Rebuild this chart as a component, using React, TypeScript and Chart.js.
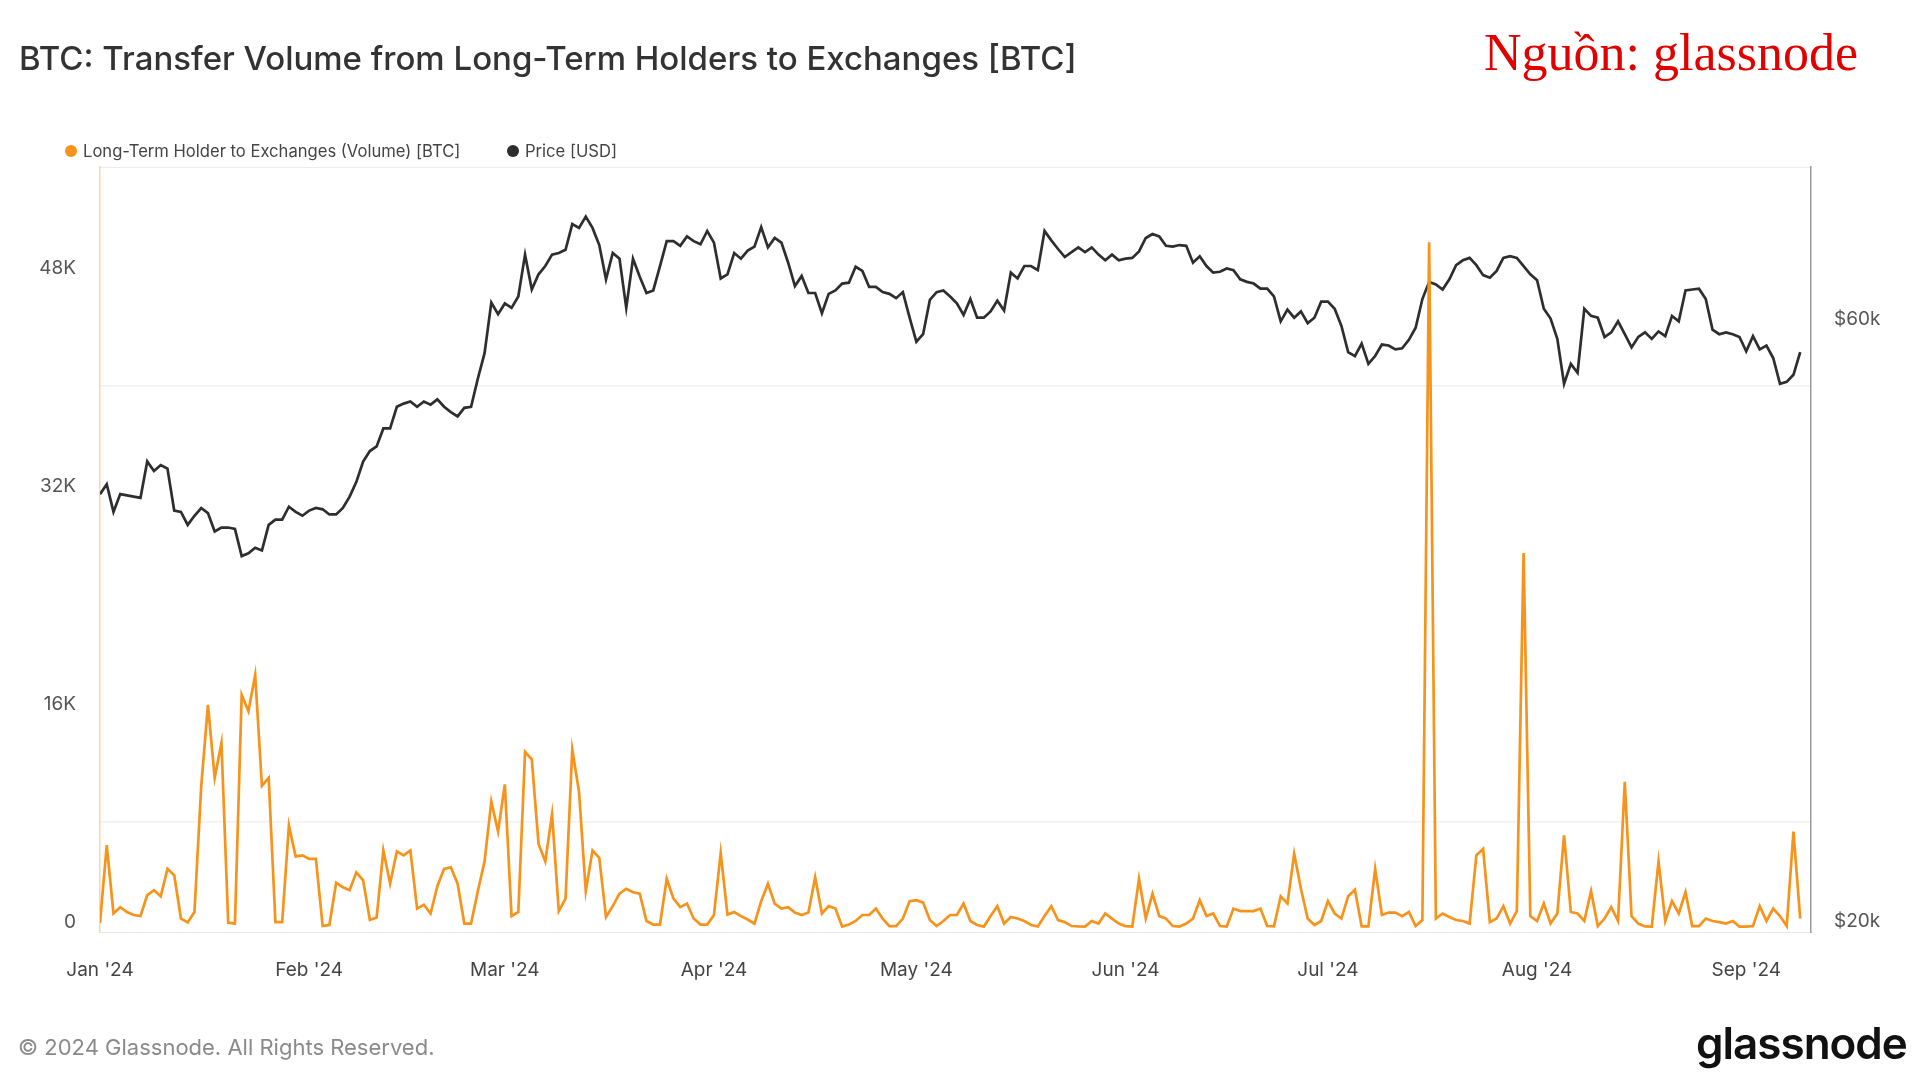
import React, { useEffect, useRef } from "react";
import { Chart, registerables } from "chart.js";

Chart.register(...registerables);

const FONT = 'Inter, "Noto Sans", "DejaVu Sans", sans-serif';

// x axis: day index since Jan 1 2024, month starts
const monthTickDays = [0, 31, 60, 91, 121, 152, 182, 213, 244];
const monthLabels = ["Jan '24", "Feb '24", "Mar '24", "Apr '24", "May '24", "Jun '24", "Jul '24", "Aug '24", "Sep '24"];

// left axis (volume, BTC)
const volumeTicks = [0, 16000, 32000, 48000];
const volumeGridValues = [7700, 39700];

// right axis (price, USD, log)
const priceTicks = [20000, 60000];

// Long-Term Holder to Exchanges (Volume) [BTC], daily from Jan 1 2024 to Sep 9 2024
const volume = [
  300, 6000, 1000, 1450, 1100, 880, 800, 2340, 2700, 2260,
  4270, 3800, 620, 330, 1100, 10300, 16300, 10950, 13500, 330,
  250, 17040, 15840, 18500, 10360, 10950, 360, 360, 7450, 5180,
  5260, 5000, 5000, 70, 150, 3250, 2920, 2700, 4010, 3430,
  510, 690, 5620, 3180, 5550, 5260, 5620, 1350, 1640, 990,
  2990, 4270, 4380, 3180, 250, 250, 2630, 4820, 9200, 7000,
  10470, 800, 1100, 12850, 12300, 6100, 4820, 8280, 1170, 2080,
  13030, 9930, 2630, 5620, 5070, 730, 1530, 2450, 2810, 2550,
  2450, 440, 180, 180, 3540, 2080, 1460, 1720, 620, 180,
  180, 880, 5440, 910, 1100, 800, 550, 250, 1900, 3180,
  1720, 1350, 1460, 1060, 880, 1060, 3650, 990, 1530, 1350,
  30, 180, 440, 880, 880, 1350, 620, 70, 70, 620,
  1900, 1970, 1790, 510, 70, 440, 880, 880, 1720, 440,
  150, 30, 800, 1530, 250, 730, 620, 440, 150, 40,
  800, 1530, 510, 360, 70, 40, 30, 440, 250, 990,
  620, 250, 70, 30, 3540, 620, 2450, 800, 620, 70,
  30, 250, 620, 1970, 800, 990, 70, 30, 1350, 1170,
  1170, 1170, 1350, 70, 40, 2260, 1720, 5370, 2810, 620,
  150, 440, 1900, 990, 620, 2260, 2740, 40, 40, 4270,
  880, 1060, 1060, 800, 1100, 70, 510, 50250, 620, 990,
  730, 510, 440, 250, 5260, 5730, 360, 620, 1530, 250,
  1170, 27450, 800, 440, 1720, 250, 990, 6720, 1100, 990,
  440, 2630, 70, 620, 1460, 440, 10660, 800, 250, 40,
  30, 4820, 440, 1900, 990, 2550, 70, 70, 620, 440,
  360, 250, 440, 30, 30, 70, 1530, 440, 1350, 800,
  70, 7010, 620,
];

// Price [USD], daily
const price = [
  44000, 44800, 42600, 44000, 43900, 43800, 43700, 46700, 45900, 46400,
  46100, 42700, 42600, 41600, 42300, 42900, 42500, 41100, 41400, 41400,
  41300, 39300, 39500, 39900, 39700, 41600, 42000, 42000, 43000, 42600,
  42300, 42700, 42900, 42800, 42400, 42400, 42900, 43800, 45000, 46700,
  47600, 48000, 49600, 49600, 51600, 51900, 52100, 51600, 52100, 51800,
  52300, 51600, 51100, 50700, 51500, 51600, 54300, 56900, 62400, 61100,
  62300, 61800, 63100, 68100, 63900, 65700, 66700, 68100, 68300, 68700,
  72000, 71500, 73000, 71500, 69300, 65100, 68300, 67600, 61800, 67600,
  65400, 63500, 63800, 66700, 69800, 69800, 69200, 70400, 69800, 69400,
  71100, 69600, 65200, 65700, 68300, 67600, 68600, 69100, 71600, 69000,
  70200, 69600, 67100, 64300, 65500, 63500, 63500, 61200, 63400, 63800,
  64600, 64700, 66600, 66100, 64200, 64200, 63600, 63400, 62900, 63600,
  60700, 58100, 58900, 62700, 63600, 63800, 63100, 62300, 61000, 62800,
  60700, 60700, 61400, 62600, 61500, 65900, 65200, 66700, 66700, 66200,
  71100, 69900, 68800, 67800, 68400, 69000, 68400, 69000, 68100, 67400,
  68100, 67400, 67600, 67700, 68500, 70200, 70700, 70400, 69200, 69100,
  69300, 69200, 67100, 67900, 66700, 65900, 66000, 66400, 66200, 65100,
  64800, 64600, 64000, 64000, 63100, 60300, 61600, 60700, 61400, 60100,
  60700, 62500, 62500, 61700, 59800, 57000, 56600, 57900, 55800, 56600,
  57800, 57700, 57300, 57400, 58300, 59600, 62800, 64800, 64500, 63900,
  65100, 66800, 67400, 67700, 66800, 65600, 65300, 66100, 67700, 67900,
  67700, 66700, 65700, 65000, 61700, 60600, 58400, 53800, 55800, 54900,
  61700, 60900, 60700, 58600, 59100, 60300, 58900, 57500, 58600, 59100,
  58400, 59200, 58700, 60900, 60300, 63800, 63900, 64000, 62800, 59400,
  58900, 59100, 58900, 58600, 57100, 58700, 57300, 57700, 56400, 53800,
  54000, 54700, 57000,
];

const ORANGE = "#f7931a";
const DARK = "#2e2e2e";

function ChartCanvas() {
  const ref = useRef<HTMLCanvasElement | null>(null);
  useEffect(() => {
    if (!ref.current) return;
    const chart = new Chart(ref.current, {
      type: "line",
      data: {
        datasets: [
          {
            label: "Long-Term Holder to Exchanges (Volume) [BTC]",
            data: volume.map((v, i) => ({ x: i, y: v })),
            xAxisID: "x",
            yAxisID: "y",
            borderColor: ORANGE,
            borderWidth: 2.7,
            pointRadius: 0,
            tension: 0,
            fill: false,
          },
          {
            label: "Price [USD]",
            data: price.map((v, i) => ({ x: i, y: v })),
            xAxisID: "x",
            yAxisID: "y1",
            borderColor: DARK,
            borderWidth: 2.7,
            pointRadius: 0,
            tension: 0,
            fill: false,
          },
        ],
      },
      options: {
        responsive: false,
        animation: false,
        devicePixelRatio: 1,
        layout: { padding: 0 },
        plugins: { legend: { display: false }, tooltip: { enabled: false } },
        scales: {
          x: {
            type: "linear",
            position: "bottom",
            min: 0,
            max: 253.6,
            afterBuildTicks: (s: any) => {
              s.ticks = monthTickDays.map((v) => ({ value: v }));
            },
            afterFit: (s: any) => {
              s.height = 148;
            },
            grid: { display: false, drawTicks: false },
            border: { display: true, color: "#e6e6e6", width: 1 },
            ticks: {
              autoSkip: false,
              maxRotation: 0,
              minRotation: 0,
              padding: 27,
              color: "#444444",
              font: { family: FONT, size: 19 },
              callback: (_v: any, i: number) => monthLabels[i],
            },
          },
          xTop: {
            type: "linear",
            position: "top",
            min: 0,
            max: 1,
            afterFit: (s: any) => {
              s.height = 167;
            },
            grid: { display: false, drawTicks: false },
            border: { display: true, color: "#ececec", width: 1 },
            ticks: { display: false },
          },
          y: {
            type: "linear",
            position: "left",
            min: -367,
            max: 55780,
            afterBuildTicks: (s: any) => {
              s.ticks = [...volumeTicks, ...volumeGridValues].sort((a, b) => a - b).map((v) => ({ value: v }));
            },
            afterFit: (s: any) => {
              s.width = 100;
            },
            grid: {
              drawTicks: false,
              color: (ctx: any) => (ctx.tick && volumeGridValues.includes(ctx.tick.value) ? "#f1f1f1" : "rgba(0,0,0,0)"),
              lineWidth: 1.5,
            },
            border: { display: true, color: "#fcd6ab", width: 1.5 },
            ticks: {
              padding: 24,
              labelOffset: -5,
              color: "#555555",
              font: { family: FONT, size: 19 },
              callback: (v: any) => (volumeTicks.includes(v) ? (v === 0 ? "0" : `${v / 1000}K`) : ""),
            },
          },
          y1: {
            type: "logarithmic",
            position: "right",
            min: 19800,
            max: 79900,
            afterBuildTicks: (s: any) => {
              s.ticks = priceTicks.map((v) => ({ value: v }));
            },
            afterFit: (s: any) => {
              s.width = 109;
            },
            grid: { drawOnChartArea: false, drawTicks: false },
            border: { display: true, color: "#9a9a9a", width: 1.5 },
            ticks: {
              padding: 23,
              labelOffset: -5,
              color: "#555555",
              font: { family: FONT, size: 19 },
              callback: (v: any) => `$${v / 1000}k`,
            },
          },
        },
      } as any,
    });
    return () => chart.destroy();
  }, []);
  return <canvas ref={ref} width={1920} height={1080} style={{ position: "absolute", left: 0, top: 0, width: 1920, height: 1080 }} />;
}

export default function App() {
  const dot = (color: string): React.CSSProperties => ({
    position: "absolute",
    width: 12,
    height: 12,
    borderRadius: "50%",
    background: color,
    top: 145,
  });
  const legendText: React.CSSProperties = {
    position: "absolute",
    top: 141,
    height: 20,
    lineHeight: "20px",
    fontFamily: FONT,
    fontSize: 16.6,
    color: "#444",
    whiteSpace: "nowrap",
  };
  return (
    <div style={{ position: "absolute", left: 0, top: 0, width: 1920, height: 1080, background: "#fff", overflow: "hidden" }}>
      <ChartCanvas />
      <div
        style={{
          position: "absolute",
          left: 19,
          top: 37,
          height: 42,
          lineHeight: "42px",
          fontFamily: FONT,
          fontSize: 33,
          fontWeight: 500,
          color: "#333",
          whiteSpace: "nowrap",
        }}
      >
        BTC: Transfer Volume from Long-Term Holders to Exchanges [BTC]
      </div>
      <div
        style={{
          position: "absolute",
          left: 1484,
          top: 27,
          lineHeight: 1,
          fontFamily: '"Liberation Serif", "DejaVu Serif", serif',
          fontSize: 52,
          color: "#e00000",
          whiteSpace: "nowrap",
        }}
      >
        Nguồn: glassnode
      </div>
      <div style={{ ...dot(ORANGE), left: 65 }} />
      <div style={{ ...legendText, left: 83 }}>Long-Term Holder to Exchanges (Volume) [BTC]</div>
      <div style={{ ...dot(DARK), left: 507 }} />
      <div style={{ ...legendText, left: 525 }}>Price [USD]</div>
      <div
        style={{
          position: "absolute",
          left: 18,
          top: 1033,
          height: 28,
          lineHeight: "28px",
          fontFamily: FONT,
          fontSize: 22,
          color: "#8a8a8a",
          whiteSpace: "nowrap",
        }}
      >
        © 2024 Glassnode. All Rights Reserved.
      </div>
      <div
        style={{
          position: "absolute",
          left: 1696,
          top: 1018,
          height: 50,
          lineHeight: "50px",
          fontFamily: FONT,
          fontSize: 44,
          fontWeight: 600,
          letterSpacing: -1,
          color: "#111",
          whiteSpace: "nowrap",
        }}
      >
        glassnode
      </div>
    </div>
  );
}
